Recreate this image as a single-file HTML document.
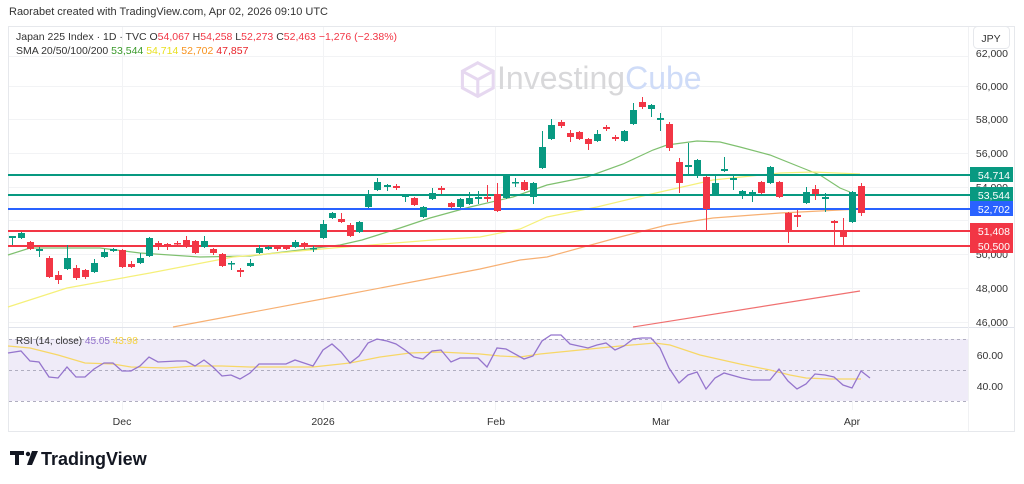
<!DOCTYPE html>
<html><head><meta charset="utf-8"><style>
body{margin:0;background:#fff;width:1024px;height:484px;overflow:hidden;font-family:"Liberation Sans",sans-serif}
svg{position:absolute;left:0;top:0}
</style></head><body>
<svg id="s" width="1024" height="484" xmlns="http://www.w3.org/2000/svg" font-family="Liberation Sans, sans-serif">
<text x="9" y="15" font-size="11" fill="#333">Raorabet created with TradingView.com, Apr 02, 2026 09:10 UTC</text>
<rect x="8.5" y="26.5" width="1006" height="405" fill="none" stroke="#e6e8ec"/>
<g id="grid" stroke="#f2f3f5" stroke-width="1"></g>
<line x1="8" y1="327.5" x2="1014" y2="327.5" stroke="#e0e3eb"/>
<line x1="968.5" y1="27" x2="968.5" y2="431" stroke="#f0f1f3"/>
<text x="497" y="89" font-size="32" fill="#d8d8da">Investing<tspan fill="#cfdcf8">Cube</tspan></text>
<g transform="translate(461,60) scale(1.4)" fill="none" stroke="#e6d8f0" stroke-width="2.2"><path d="M12 2 L23 8 L23 20 L12 26 L1 20 L1 8 Z M1 8 L12 14 L23 8 M12 14 L12 26"/></g>
<text x="16" y="40" font-size="10.5" fill="#333">Japan 225 Index · 1D · TVC  O<tspan fill="#f23645">54,067</tspan>  H<tspan fill="#f23645">54,258</tspan>  L<tspan fill="#f23645">52,273</tspan>  C<tspan fill="#f23645">52,463</tspan>  <tspan fill="#f23645">−1,276 (−2.38%)</tspan></text>
<text x="16" y="54" font-size="10.5" fill="#333">SMA 20/50/100/200  <tspan fill="#3a9a2a">53,544</tspan>  <tspan fill="#e8e020">54,714</tspan>  <tspan fill="#f7931e">52,702</tspan>  <tspan fill="#e8242a">47,857</tspan></text>
<rect x="973.5" y="26.5" width="36" height="22" rx="4" fill="#fff" stroke="#e6e8ec"/>
<text x="991" y="42" font-size="10.5" fill="#333" text-anchor="middle">JPY</text>
<rect x="9" y="339" width="959" height="62" fill="#efebf8"/>
<g stroke="#b0aec0" stroke-dasharray="3,3" stroke-width="1"><line x1="9" y1="339.5" x2="968" y2="339.5"/><line x1="9" y1="370.5" x2="968" y2="370.5"/><line x1="9" y1="401.5" x2="968" y2="401.5"/></g>
<text x="16" y="344" font-size="10" fill="#333">RSI (14, close) <tspan fill="#9575cd">45.05</tspan> <tspan fill="#f5d342">43.98</tspan></text>
<g id="ma"></g>
<g id="hl"></g>
<g id="c"></g>
<g id="rsi" fill="none" stroke-width="1.3"></g>
<g font-size="10.5" fill="#333" text-anchor="end">
<text x="1008" y="90">60,000</text><text x="1008" y="123">58,000</text><text x="1008" y="157">56,000</text><text x="1008" y="191">54,000</text><text x="1008" y="258">50,000</text><text x="1008" y="292">48,000</text><text x="1008" y="326">46,000</text><text x="1008" y="57">62,000</text>
<text x="1003" y="359">60.00</text><text x="1003" y="390">40.00</text>
</g>
<g id="lab" font-size="10.5" fill="#fff" text-anchor="end"></g>
<g font-size="10.5" fill="#333" text-anchor="middle"><text x="122" y="425">Dec</text><text x="323" y="425">2026</text><text x="496" y="425">Feb</text><text x="661" y="425">Mar</text><text x="852" y="425">Apr</text></g>
<g transform="translate(10,451)"><path d="M0 0h14v4h-5v10h-4v-10h-5z" fill="#131722"/><circle cx="18" cy="3" r="2.2" fill="#131722"/><path d="M22 0h6l-6 14h-5z" fill="#131722"/></g>
<text x="41" y="465" font-size="18" font-weight="bold" fill="#131722">TradingView</text>
</svg>
<script>
const NS="http://www.w3.org/2000/svg";
function el(p,t,a){const e=document.createElementNS(NS,t);for(const k in a)e.setAttribute(k,a[k]);document.getElementById(p).appendChild(e);return e;}
[56,86,119,153,187,220,254,288,322].forEach(y=>el('grid','line',{x1:9,y1:y+.5,x2:968,y2:y+.5}));
[122,323,495,661,852].forEach(x=>el('grid','line',{x1:x+.5,y1:27,x2:x+.5,y2:410}));
function pl(id,pts,col,w){el(id,'polyline',{points:pts.map(p=>p.join(',')).join(' '),stroke:col,'stroke-width':w||1.2,fill:'none'});}
pl('ma',[[8,255],[30,248],[100,248],[140,253],[200,257],[250,256],[300,250],[340,245],[362,240],[400,228],[430,218],[470,207],[513,197],[547,185],[587,177],[623,164],[653,150],[667,145],[697,141],[720,142],[740,147],[770,155],[800,167],[820,175],[840,188],[850,192]],'#7fc06f');
pl('ma',[[8,307],[67,288],[150,273],[233,257],[333,248],[433,240],[480,237],[520,229],[547,217],[597,207],[647,195],[713,180],[780,173],[813,172],[860,174]],'#f5f07a');
pl('ma',[[173,327],[333,297],[433,278],[480,269],[520,260],[547,257],[620,237],[667,225],[713,218],[780,213],[860,209]],'#f7b073');
pl('ma',[[633,327],[860,291]],'#f07070');
[[175,'#089981','54,714'],[195,'#089981','53,544'],[209,'#2962ff','52,702'],[231,'#f23645','51,408'],[246,'#f23645','50,500']].forEach(h=>{
el('hl','line',{x1:8,y1:h[0],x2:970,y2:h[0],stroke:h[1],'stroke-width':2});
el('lab','rect',{x:970,y:h[0]-8,width:43,height:15,fill:h[1]});
el('lab','text',{x:1010,y:h[0]+4}).textContent=h[2];});
const C=[[12,236,238,236,245,1],[21,233,238,232,239,1],[30,242,249,241,250,0],[39,249,251,247,257,1],[49,258,277,256,278,0],[58,275,280,271,284,0],[67,258,269,245,270,1],[76,268,278,265,280,0],[85,270,277,269,279,0],[94,263,272,259,273,1],[104,252,257,249,258,1],[113,249,251,248,252,1],[122,250,267,249,268,0],[131,264,267,261,268,0],[140,258,263,253,264,1],[149,238,256,237,257,1],[158,243,245,241,250,0],[167,244,246,243,250,0],[177,243,244,241,246,0],[186,240,245,236,248,0],[195,241,253,240,254,0],[204,241,247,236,248,1],[213,249,253,248,255,0],[222,254,266,253,267,0],[231,263,264,261,270,1],[240,270,272,268,277,0],[250,263,266,259,267,1],[259,248,253,245,254,1],[268,247,249,246,250,1],[277,246,249,245,251,0],[286,247,249,246,250,0],[295,242,247,240,248,1],[304,243,247,242,249,0],[313,248,249,246,252,1],[323,224,238,220,239,1],[332,213,218,212,219,1],[341,219,222,213,223,0],[350,225,236,223,237,0],[359,222,232,221,233,1],[368,195,207,190,208,1],[377,182,190,178,191,1],[387,185,187,184,191,1],[396,186,188,184,190,0],[405,195,197,194,202,1],[414,198,205,197,206,0],[423,207,217,206,218,1],[432,193,199,188,200,1],[441,188,190,186,194,0],[451,203,207,202,208,0],[460,199,207,198,208,1],[469,198,204,192,205,1],[478,197,199,191,204,1],[487,197,199,185,202,0],[497,194,211,183,212,0],[506,175,198,174,199,1],[515,182,183,178,187,1],[524,182,190,180,191,0],[533,183,197,182,204,1],[542,147,168,131,169,1],[551,125,139,119,140,1],[561,122,126,120,128,0],[570,133,137,130,142,0],[579,132,139,131,140,0],[588,139,144,138,150,0],[597,134,141,130,142,1],[606,127,129,125,131,0],[615,137,139,135,141,0],[624,131,141,130,142,1],[633,110,124,103,125,1],[642,102,107,97,109,0],[651,105,109,104,117,1],[660,118,120,113,131,1],[669,124,148,122,151,0],[679,162,183,158,193,0],[688,165,167,143,175,1],[697,160,175,159,178,1],[706,177,209,176,230,0],[715,183,195,176,196,1],[724,169,171,157,172,1],[733,178,180,176,190,1],[742,191,195,190,199,1],[752,192,194,190,202,1],[761,182,193,181,194,0],[770,167,183,166,184,1],[779,182,197,181,198,0],[788,213,231,212,243,0],[797,215,217,210,227,0],[806,192,203,187,204,1],[815,189,194,185,200,0],[825,197,199,193,212,1],[834,221,223,220,245,0],[843,232,237,218,245,0],[852,192,222,191,223,1],[861,186,213,183,216,0]];
C.forEach(c=>{const col=c[5]?'#089981':'#f23645';
el('c','line',{x1:c[0]+.5,y1:c[3],x2:c[0]+.5,y2:c[4],stroke:col,'stroke-width':1});
el('c','rect',{x:c[0]-3,y:c[1],width:7,height:Math.max(1.5,c[2]-c[1]),fill:col});});
pl('rsi',[[8,346],[30,348],[58,355],[85,363],[113,364],[131,367],[166,368],[195,366],[222,366],[250,367],[280,367],[313,367],[350,363],[380,357],[410,353],[440,352],[480,354],[500,356],[520,357],[540,354],[580,350],[620,346],[655,343],[670,345],[700,355],[740,364],[770,370],[790,375],[806,378],[830,379],[861,379]],'#f7d766',1.2);
pl('rsi',[[8,353],[21,351],[30,361],[39,362],[49,377],[58,378],[67,367],[76,377],[85,377],[94,369],[104,363],[113,363],[122,371],[131,371],[140,366],[149,357],[158,362],[177,361],[186,361],[195,366],[204,360],[213,367],[222,376],[231,375],[240,379],[250,373],[259,364],[268,364],[286,364],[295,360],[304,363],[313,366],[323,350],[332,344],[341,352],[350,363],[359,356],[368,343],[377,339],[387,341],[396,344],[405,350],[414,357],[423,359],[432,351],[441,350],[451,362],[460,358],[478,358],[487,367],[497,348],[506,349],[524,359],[533,356],[542,341],[551,335],[561,335],[570,344],[579,346],[588,348],[597,345],[606,343],[615,350],[624,346],[633,339],[642,338],[651,338],[660,348],[669,368],[679,383],[688,375],[697,372],[706,389],[715,378],[724,373],[742,378],[752,380],[770,380],[779,369],[788,381],[797,389],[806,384],[815,374],[825,375],[834,377],[843,385],[852,388],[861,371],[870,378]],'#9575cd',1.3);
</script>
</body></html>
